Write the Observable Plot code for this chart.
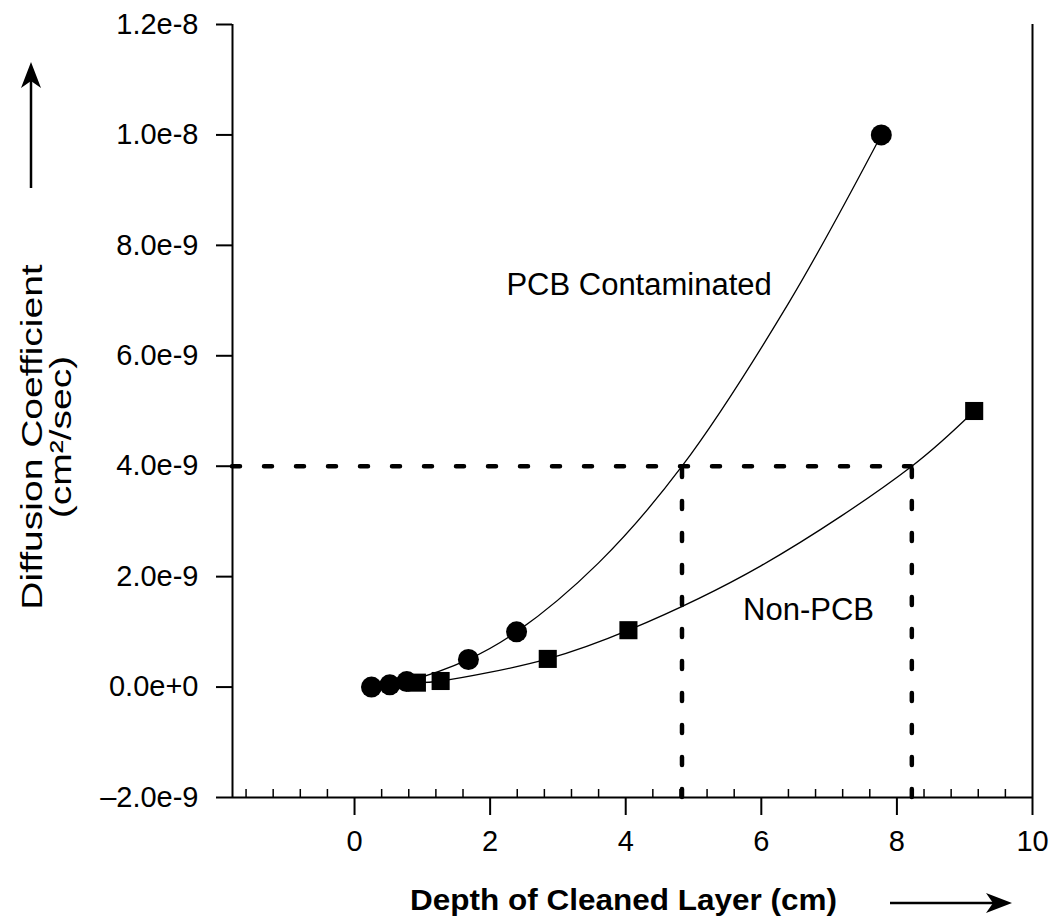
<!DOCTYPE html>
<html><head><meta charset="utf-8">
<script src="https://cdn.jsdelivr.net/npm/d3@7"></script>
<script src="https://cdn.jsdelivr.net/npm/@observablehq/plot@0.6"></script>
<style>
body{margin:0;background:#fff}
svg{font-family:"Liberation Sans",Arial,Helvetica,sans-serif}
</style>
</head><body><div id="chart"></div>
<script>
// ---- data ----
const xTicks = [0, 2, 4, 6, 8, 10];
const xTickLabels = ["0", "2", "4", "6", "8", "10"];
const xMinorTicks = [-1.6,-1.2,-0.8,-0.4,0.4,0.8,1.2,1.6,2.4,2.8,3.2,3.6,4.4,4.8,5.2,5.6,6.4,6.8,7.2,7.6,8.4,8.8,9.2,9.6];
const yTicks = [-2e-9, 0, 2e-9, 4e-9, 6e-9, 8e-9, 1e-8, 1.2e-8];
const yTickLabels = ["\u20132.0e-9", "0.0e+0", "2.0e-9", "4.0e-9", "6.0e-9", "8.0e-9", "1.0e-8", "1.2e-8"];
const xDomain = [-1.8, 10];
const yDomain = [-2e-9, 1.2e-8];

// PCB contaminated (circles)
const pcbDepth = [0.25, 0.52, 0.77, 1.68, 2.39, 7.77];
const pcbD = [0, 0.04e-9, 0.1e-9, 0.5e-9, 1.0e-9, 1.0e-8];
// Non-PCB (squares)
const nonDepth = [0.92, 1.27, 2.85, 4.04, 9.14];
const nonD = [0.08e-9, 0.11e-9, 0.51e-9, 1.03e-9, 5.0e-9];

// fitted curves
const pcbCurveDepth = [0.25, 0.52, 0.77, 1.68, 2.39, 3.6, 4.83, 6.4, 7.77];
const pcbCurveD = [0, 0.04e-9, 0.1e-9, 0.5e-9, 1.0e-9, 2.25e-9, 4.0e-9, 6.95e-9, 1.0e-8];
const nonCurveDepth = [0.92, 1.27, 2.85, 4.04, 6.0, 8.22, 9.14];
const nonCurveD = [0.08e-9, 0.11e-9, 0.51e-9, 1.03e-9, 2.2e-9, 4.0e-9, 5.0e-9];

// reference (dashed) lines
const refLevel = [4e-9];
const refDepths = [4.83, 8.22];

// annotations
const annoLabels = ["PCB Contaminated", "Non-PCB"];
const annoDepth = [2.24, 5.73];
const annoD = [7.28e-9, 1.4e-9];

// ---- tables ----
const pcb = pcbDepth.map((d, i) => ({depth: d, D: pcbD[i]}));
const non = nonDepth.map((d, i) => ({depth: d, D: nonD[i]}));
const pcbCurve = pcbCurveDepth.map((d, i) => ({depth: d, D: pcbCurveD[i]}));
const nonCurve = nonCurveDepth.map((d, i) => ({depth: d, D: nonCurveD[i]}));
const anno = annoLabels.map((l, i) => ({label: l, depth: annoDepth[i], D: annoD[i]}));
const xFmt = new Map(xTicks.map((t, i) => [t, xTickLabels[i]]));
const yFmt = new Map(yTicks.map((t, i) => [t, yTickLabels[i]]));

const chart = Plot.plot({
  width: 1054, height: 918,
  marginLeft: 232, marginRight: 22, marginTop: 24, marginBottom: 121,
  x: {domain: xDomain},
  y: {domain: yDomain},
  style: {fontFamily: "Liberation Sans, Arial, sans-serif", fontSize: "29px", background: "white", color: "black"},
  marks: [
    Plot.ruleX([xDomain[0], xDomain[1]], {strokeWidth: 2}),
    Plot.ruleY([yDomain[0]], {strokeWidth: 2}),
    Plot.ruleY(refLevel, {x1: xDomain[0], x2: refDepths[1], strokeWidth: 4.5, strokeDasharray: "8,24", strokeLinecap: "round"}),
    Plot.ruleX(refDepths, {y1: yDomain[0], y2: refLevel[0], strokeWidth: 4.5, strokeDasharray: "8,24", strokeLinecap: "round"}),
    Plot.line(pcbCurve, {x: "depth", y: "D", curve: "catmull-rom", strokeWidth: 1.3}),
    Plot.line(nonCurve, {x: "depth", y: "D", curve: "catmull-rom", strokeWidth: 1.3}),
    Plot.dot(pcb, {x: "depth", y: "D", r: 10.5, fill: "black", symbol: "circle"}),
    Plot.dot(non, {x: "depth", y: "D", r: 10.2, fill: "black", symbol: "square"}),
    Plot.axisY(yTicks, {anchor: "left", tickSize: 16, tickPadding: 18, strokeWidth: 2, fontSize: 29, tickFormat: d => yFmt.get(d), label: null}),
    Plot.axisX(xTicks, {anchor: "bottom", tickSize: 18, tickPadding: 15, strokeWidth: 2, fontSize: 29, tickFormat: d => xFmt.get(d), label: null}),
    Plot.axisX(xMinorTicks, {anchor: "bottom", tickSize: 8, dy: -8, strokeWidth: 1.5, tickFormat: () => "", label: null}),
    Plot.text(anno, {x: "depth", y: "D", text: "label", textAnchor: "start", fontSize: 31})
  ]
});
document.getElementById("chart").appendChild(chart);

const s = d3.select(chart);
// axis titles (rotated title is drawn elongated along its direction, as in the reference)
s.append("text").attr("transform", "translate(42,437) rotate(-90) scale(1.3,1)")
  .attr("text-anchor", "middle").attr("font-size", 30).attr("fill", "black").text("Diffusion Coefficient");
s.append("text").attr("transform", "translate(71,437) rotate(-90) scale(1.3,1)")
  .attr("text-anchor", "middle").attr("font-size", 30).attr("fill", "black").text("(cm\u00b2/sec)");
s.append("text").attr("transform", "translate(623.5,910) scale(1.05,1)")
  .attr("text-anchor", "middle").attr("font-size", 30).attr("font-weight", "bold").attr("fill", "black")
  .text("Depth of Cleaned Layer (cm)");

function arrow(x1, y1, x2, y2) {
  const ang = Math.atan2(y2 - y1, x2 - x1) * 180 / Math.PI;
  const L = Math.hypot(x2 - x1, y2 - y1);
  const g = s.append("g").attr("transform", `translate(${x1},${y1}) rotate(${ang})`);
  g.append("line").attr("x1", 0).attr("y1", 0).attr("x2", L - 18).attr("y2", 0)
    .attr("stroke", "black").attr("stroke-width", 2.5);
  g.append("path").attr("d", `M${L},0L${L - 26},-10L${L - 19},0L${L - 26},10Z`).attr("fill", "black");
}
arrow(890, 903, 1012, 903);
arrow(31, 188, 31, 62);
</script>
</body></html>
